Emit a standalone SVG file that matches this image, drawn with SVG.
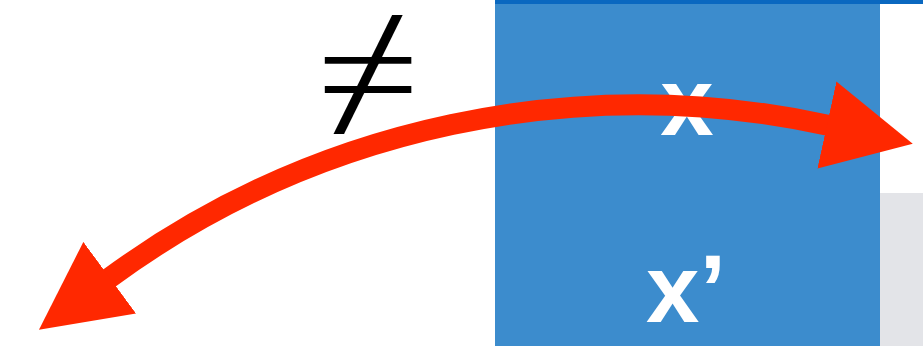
<svg xmlns="http://www.w3.org/2000/svg" width="923" height="346" viewBox="0 0 923 346">
<style>
.lbl{font-family:"Liberation Sans",Arial,sans-serif;font-weight:bold;font-size:96px;fill:#fff}
.neq{font-family:"Noto Sans","DejaVu Sans",sans-serif;font-weight:260;font-size:145px;fill:#000}
.arrow{fill:none;stroke:#FF2800;stroke-width:21}
</style>
<defs>
<marker id="ah" markerUnits="userSpaceOnUse" markerWidth="90" markerHeight="90" viewBox="0 0 84 84" refX="2" refY="42" orient="auto-start-reverse">
<path d="M0,0.5 L82,42 L0,83.5 z" fill="#FF2800"/>
</marker>
</defs>
<rect width="923" height="346" fill="#fff"/>
<g id="gray-panel">
<rect x="880" y="193" width="43" height="153" fill="#E3E4E8"/>
</g>
<g id="blue-panel">
<rect x="495" y="0" width="385" height="346" fill="#3C8CCD"/>
<rect x="495" y="0" width="428" height="4" fill="#0A68C0"/>
</g>
<g id="node-x">
<text class="lbl" x="687" y="135" text-anchor="middle">x</text>
</g>
<g id="node-xprime">
<text class="lbl" x="646" y="322">x’</text>
</g>
<g id="neq-label">
<text class="neq" transform="translate(368,126) scale(1.3,1)" text-anchor="middle">≠</text>
</g>
<g id="connectors">
<path class="arrow" d="M108,279 A895,895 0 0,1 829,125.5" marker-start="url(#ah)" marker-end="url(#ah)"/>
</g>
</svg>
